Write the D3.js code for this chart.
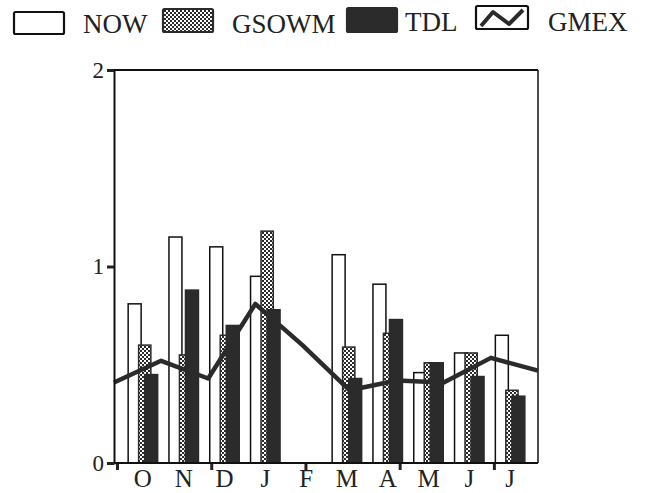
<!DOCTYPE html>
<html>
<head>
<meta charset="utf-8">
<script src="https://cdn.jsdelivr.net/npm/d3@7"></script>
<style>
html,body{margin:0;padding:0;background:#fff;}
svg{display:block;}
text{font-family:"Liberation Serif","Times New Roman",serif;fill:#222;}
</style>
</head>
<body>
<svg id="chart" width="647" height="493"></svg>
<script>
// ---- data ----
const months = ["O","N","D","J","F","M","A","M2","J2","J3"];
const monthLabels = ["O","N","D","J","F","M","A","M","J","J"];
const nowVals   = [0.81, 1.15, 1.10, 0.95, null, 1.06, 0.91, 0.46, 0.56, 0.65];
const gsowmVals = [0.60, 0.55, 0.65, 1.18, null, 0.59, 0.66, 0.51, 0.56, 0.37];
const tdlVals   = [0.45, 0.88, 0.70, 0.78, null, 0.43, 0.73, 0.51, 0.44, 0.34];
const gmexVals  = [0.41, 0.52, 0.43, 0.81, 0.60, 0.37, 0.42, 0.41, 0.535, 0.47];
const yTicks = [0, 1, 2];
const xTickMonths = ["O","D","F","A","J2"];
const legendLabels = ["NOW","GSOWM","TDL","GMEX"];

// ---- layout ----
const svg = d3.select("#chart");
const L = 114, R = 538, T = 70, B = 463;
const dark = "#2b2b2b";

const y = d3.scaleLinear().domain([0, 2]).range([B, T]);
const x = d3.scaleBand().domain(months).range([L, 539]).paddingInner(0.277).paddingOuter(0.347);
const xl = d3.scalePoint().domain(months).range([L, R]);

const defs = svg.append("defs");
const pat = defs.append("pattern").attr("id","checker").attr("patternUnits","userSpaceOnUse")
  .attr("width",4).attr("height",4);
pat.append("rect").attr("width",4).attr("height",4).attr("fill",dark);
pat.append("rect").attr("x",0).attr("y",0).attr("width",2).attr("height",2).attr("fill","#fff");
pat.append("rect").attr("x",2).attr("y",2).attr("width",2).attr("height",2).attr("fill","#fff");

// series sub-positions as fraction of band width
const series = [
  {vals: nowVals,   f0: 0.00, f1: 0.44, fill: "#fff",          stroke: "#111"},
  {vals: gsowmVals, f0: 0.355, f1: 0.77, fill: "url(#checker)", stroke: dark},
  {vals: tdlVals,   f0: 0.56, f1: 1.00, fill: dark,            stroke: dark}
];

const bw = x.bandwidth();
series.forEach(s => {
  svg.append("g").selectAll("rect")
    .data(months.map((m, i) => ({m, v: s.vals[i]})).filter(d => d.v != null))
    .join("rect")
    .attr("x", d => x(d.m) + s.f0 * bw)
    .attr("width", (s.f1 - s.f0) * bw)
    .attr("y", d => y(d.v))
    .attr("height", d => y(0) - y(d.v))
    .attr("fill", s.fill)
    .attr("stroke", s.stroke)
    .attr("stroke-width", 1.5);
});

// frame
svg.append("line").attr("x1",L).attr("x2",R).attr("y1",T).attr("y2",T).attr("stroke","#111").attr("stroke-width",2);
svg.append("line").attr("x1",R).attr("x2",R).attr("y1",T).attr("y2",B).attr("stroke","#111").attr("stroke-width",1.5);

// GMEX line
const line = d3.line().x((d,i) => xl(months[i])).y(d => y(d));
svg.append("path").datum(gmexVals).attr("d", line)
  .attr("fill","none").attr("stroke",dark).attr("stroke-width",4.5).attr("stroke-linejoin","round");

// y axis
const yAxis = svg.append("g").attr("transform",`translate(${L},0)`)
  .call(d3.axisLeft(y).tickValues(yTicks).tickFormat(d3.format("d")).tickSize(7).tickPadding(3));
yAxis.select(".domain").attr("stroke","#111").attr("stroke-width",2);
yAxis.selectAll(".tick line").attr("stroke","#222").attr("stroke-width",3);
yAxis.selectAll(".tick text").attr("font-size",23).attr("font-family","Liberation Serif, serif").attr("fill","#222");

// x axis (ticks from line scale)
const xAxis = svg.append("g").attr("transform",`translate(3,${B})`)
  .call(d3.axisBottom(xl).tickValues(xTickMonths).tickFormat("").tickSize(7).tickSizeOuter(0));
xAxis.select(".domain").remove();
xAxis.selectAll(".tick line").attr("stroke","#222").attr("stroke-width",3);
svg.append("line").attr("x1",L).attr("x2",R).attr("y1",B).attr("y2",B).attr("stroke","#111").attr("stroke-width",2);

// x labels
svg.append("g").selectAll("text").data(months).join("text")
  .attr("x", m => x(m) + bw/2).attr("y", 487)
  .attr("text-anchor","middle").attr("font-size",25)
  .text((m,i) => monthLabels[i]);

// legend
const leg = [
  {box:[14,12,50,22], tx:83, ty:33, fill:"#fff", stroke:"#111"},
  {box:[163,9,50,23], tx:232, ty:33, fill:"url(#checker)", stroke:dark},
  {box:[347,8,50,24], tx:405, ty:31, fill:dark, stroke:dark},
  {box:[476,6,52,23], tx:548, ty:31, fill:"#fff", stroke:"#111"}
];
leg.forEach((d, i) => {
  svg.append("rect").attr("x",d.box[0]).attr("y",d.box[1]).attr("width",d.box[2]).attr("height",d.box[3])
    .attr("rx",1.5).attr("fill",d.fill).attr("stroke",d.stroke).attr("stroke-width",2.2);
  svg.append("text").attr("x",d.tx).attr("y",d.ty).attr("font-size",27).text(legendLabels[i]);
  if (i === 3) {
    const bx = d.box[0], by = d.box[1], bh = d.box[3];
    svg.append("path")
      .attr("d", d3.line()([[bx+5, by+bh-3],[bx+17, by+6],[bx+33, by+bh-5],[bx+47, by+4]]))
      .attr("fill","none").attr("stroke",dark).attr("stroke-width",4).attr("stroke-linejoin","round");
  }
});
</script>
</body>
</html>
